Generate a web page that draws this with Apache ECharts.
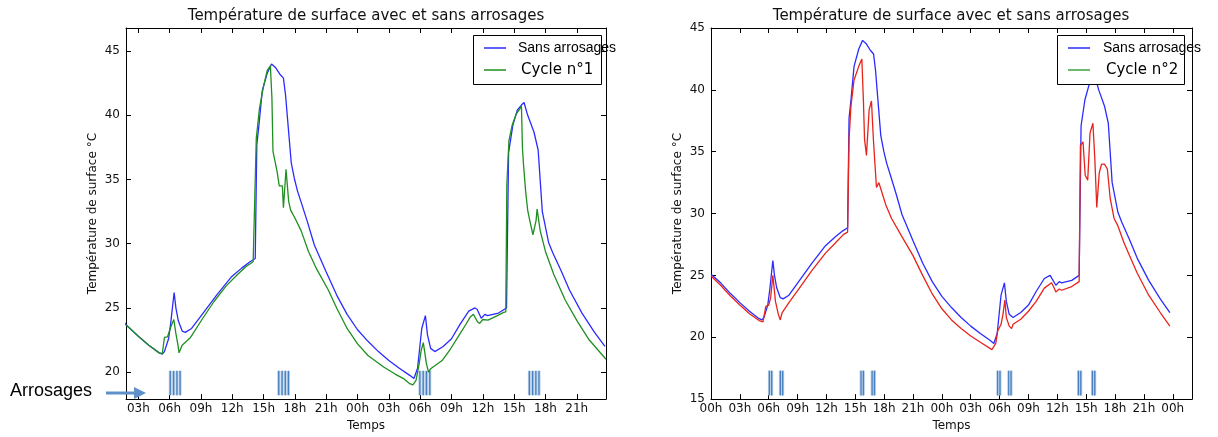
<!DOCTYPE html>
<html>
<head>
<meta charset="utf-8">
<script src="https://cdn.jsdelivr.net/npm/echarts@6/dist/echarts.min.js"></script>
<style>
  html, body { margin: 0; padding: 0; background: #fff; }
  #main { width: 1218px; height: 437px; }
</style>
</head>
<body>
<div id="main"></div>
<script>
// temps en heures depuis 00h du jour 1, temperature en °C
var sansArrosages = [
  [0, 25.1], [1, 24.4], [2, 23.55], [3, 22.8], [4, 22.1], [5, 21.5], [5.3, 21.4], [5.5, 21.6],
  [5.9, 22.6], [6.1, 23.8], [6.43, 26.2], [6.6, 25.0], [6.83, 24.0], [7.2, 23.2], [7.5, 23.1],
  [8.1, 23.4], [9.3, 24.7], [10.5, 26.0], [11.9, 27.4], [12.9, 28.1], [13.7, 28.6], [14.2, 28.85],
  [14.35, 37.7], [14.55, 39.2], [14.87, 41.9], [15.36, 43.3], [15.76, 44.0], [16.16, 43.7],
  [16.56, 43.2], [16.9, 42.9], [17.1, 41.6], [17.65, 36.3], [17.97, 35.0], [18.25, 34.1],
  [18.65, 33.1], [19.2, 31.7], [19.86, 29.9], [21.0, 27.8], [22.0, 26.0], [23.0, 24.5],
  [24.0, 23.3], [25.0, 22.4], [26.0, 21.6], [27.0, 20.9], [28.0, 20.3], [29.0, 19.75],
  [29.4, 19.5], [29.75, 20.3], [30.15, 23.4], [30.5, 24.4], [30.7, 22.9], [31.0, 21.85],
  [31.4, 21.6], [32.2, 22.0], [33.0, 22.6], [33.8, 23.7], [34.65, 24.75], [35.25, 25.0],
  [35.45, 24.9], [35.85, 24.2], [36.2, 24.5], [36.45, 24.4], [37.5, 24.6], [38.27, 25.0],
  [38.47, 37.1], [38.87, 39.2], [39.3, 40.4], [39.7, 40.8], [39.95, 41.0], [40.3, 40.0],
  [40.9, 38.7], [41.3, 37.3], [41.7, 32.5], [42.3, 30.1], [42.7, 29.3], [43.5, 27.9],
  [44.3, 26.4], [45.5, 24.6], [46.7, 23.1], [47.7, 22.0]
];

var cycle1 = [
  [1.8, 23.65], [2, 23.55], [3, 22.8], [4, 22.1], [5, 21.5], [5.3, 21.45], [5.5, 22.7], [5.8, 22.75],
  [6.1, 23.5], [6.4, 24.1], [6.6, 23.0], [6.8, 22.1], [6.9, 21.5], [7.2, 22.1], [8.0, 22.7],
  [9.1, 24.1], [10.25, 25.5], [11.4, 26.7], [12.5, 27.6], [13.3, 28.2], [14.0, 28.6], [14.15, 28.75],
  [14.3, 38.2], [14.6, 40.5], [15.0, 42.3], [15.35, 43.5], [15.65, 43.85], [15.8, 41.3], [15.9, 37.2],
  [16.3, 35.6], [16.5, 34.5], [16.8, 34.5], [16.9, 32.8], [17.15, 35.8], [17.4, 33.3], [17.6, 32.6],
  [18.0, 32.0], [18.6, 31.0], [19.3, 29.4], [20.1, 28.0], [21.2, 26.4], [22.0, 25.0], [23.0, 23.4],
  [24.0, 22.2], [25.0, 21.3], [26.5, 20.4], [27.6, 19.85], [28.4, 19.5], [29.0, 19.1], [29.3, 19.0],
  [29.6, 19.35], [29.9, 20.65], [30.1, 21.7], [30.3, 22.3], [30.4, 22.2], [30.6, 20.65], [30.8, 20.0],
  [31.0, 20.26], [31.4, 20.5], [32.1, 20.9], [32.9, 21.8], [33.6, 22.7], [34.4, 23.75], [34.8, 24.3],
  [35.1, 24.5], [35.5, 23.9], [35.7, 23.8], [36.0, 24.1], [36.5, 24.05], [37.4, 24.4], [38.0, 24.65],
  [38.2, 24.7], [38.3, 34.6], [38.5, 38.0], [38.8, 39.2], [39.2, 40.1], [39.7, 40.7], [39.8, 37.4],
  [39.9, 36.15], [40.1, 34.1], [40.3, 32.6], [40.5, 31.8], [40.8, 30.7], [41.1, 31.8], [41.2, 32.7],
  [41.5, 31.0], [42.0, 29.4], [42.8, 27.6], [43.9, 25.6], [45.1, 23.9], [46.2, 22.5], [47.8, 21.0]
];

var cycle2 = [
  [0, 24.95], [1, 24.2], [2, 23.35], [3, 22.6], [4, 21.9], [5, 21.35], [5.4, 21.25], [5.7, 22.5],
  [6.0, 22.6], [6.2, 23.2], [6.43, 25.0], [6.7, 22.9], [7.0, 21.85], [7.2, 21.4], [7.4, 22.0],
  [8.1, 22.8], [9.3, 24.1], [10.5, 25.4], [11.9, 26.8], [12.9, 27.6], [13.75, 28.3], [14.2, 28.5],
  [14.35, 36.0], [14.55, 38.7], [14.87, 40.8], [15.36, 41.9], [15.68, 42.5], [15.84, 39.2],
  [15.96, 36.0], [16.16, 34.7], [16.44, 38.4], [16.68, 39.1], [16.88, 36.0], [17.05, 33.9],
  [17.2, 32.1], [17.45, 32.5], [17.77, 31.7], [18.17, 30.7], [18.77, 29.6], [19.8, 28.2],
  [21.0, 26.6], [22.0, 25.0], [23.0, 23.5], [24.0, 22.3], [25.0, 21.4], [26.0, 20.7], [27.0, 20.1],
  [28.0, 19.6], [29.2, 19.0], [29.4, 18.95], [29.6, 19.5], [29.8, 20.5], [30.15, 21.05],
  [30.35, 21.85], [30.55, 23.0], [30.7, 21.6], [31.0, 20.9], [31.25, 20.7], [31.4, 21.05],
  [32.2, 21.45], [33.0, 22.1], [33.8, 22.9], [34.65, 23.97], [35.4, 24.4], [35.6, 24.1],
  [35.85, 23.65], [36.2, 23.9], [36.45, 23.8], [37.5, 24.1], [38.27, 24.5], [38.4, 35.5],
  [38.67, 35.8], [38.9, 33.1], [39.16, 32.7], [39.4, 36.5], [39.7, 37.3], [39.9, 34.4],
  [40.1, 30.5], [40.36, 33.3], [40.6, 34.0], [40.9, 34.0], [41.2, 33.6], [41.5, 31.2],
  [41.9, 29.6], [42.3, 29.0], [42.9, 27.7], [43.5, 26.6], [44.3, 25.2], [45.5, 23.4],
  [46.7, 22.0], [47.7, 20.9]
];

// heures des arrosages (traits verticaux en bas de chaque graphe)
var arrosages1 = [6.06, 6.38, 6.7, 7.0, 16.45, 16.77, 17.08, 17.38, 29.97, 30.29, 30.6, 30.92, 40.46, 40.77, 41.08, 41.38];
var arrosages2 = [6.07, 6.31, 7.21, 7.45, 15.6, 15.84, 16.75, 16.99, 29.8, 30.04, 30.95, 31.19, 38.2, 38.44, 39.65, 39.89];
var hauteurArrosages1 = [18.2, 20.1];
var hauteurArrosages2 = [15.3, 17.3];

var heuresTicks1 = [3, 6, 9, 12, 15, 18, 21, 24, 27, 30, 33, 36, 39, 42, 45];
var heuresTicks2 = [0, 3, 6, 9, 12, 15, 18, 21, 24, 27, 30, 33, 36, 39, 42, 45, 48];
var yTicks1 = [20, 25, 30, 35, 40, 45];
var yTicks2 = [15, 20, 25, 30, 35, 40, 45];

var titre = 'Température de surface avec et sans arrosages';
var nomY = 'Température de surface °C';

function fmtHeure(v) {
  var h = Math.round(v) % 24;
  return (h < 10 ? '0' + h : '' + h) + 'h';
}

var font = 'DejaVu Sans';
var axisTxt = { color: '#111', fontFamily: font, fontSize: 12 };

function xAxes(gi, min, max, ticks) {
  return [{
    type: 'value', gridIndex: gi, min: min, max: max, position: 'bottom',
    axisLine: { show: true, onZero: false, lineStyle: { color: '#000', width: 1 } },
    axisTick: { show: true, inside: true, length: 5, customValues: ticks, lineStyle: { color: '#000' } },
    axisLabel: Object.assign({ customValues: ticks, formatter: fmtHeure, margin: 4 }, axisTxt),
    splitLine: { show: false },
    name: 'Temps', nameLocation: 'middle', nameGap: 20,
    nameTextStyle: axisTxt
  }, {
    type: 'value', gridIndex: gi, min: min, max: max, position: 'top',
    axisLine: { show: true, onZero: false, lineStyle: { color: '#000', width: 1 } },
    axisTick: { show: true, inside: true, length: 5, customValues: ticks, lineStyle: { color: '#000' } },
    axisLabel: { show: false }, splitLine: { show: false }
  }];
}

function yAxes(gi, min, max, ticks) {
  return [{
    type: 'value', gridIndex: gi, min: min, max: max, position: 'left',
    axisLine: { show: true, onZero: false, lineStyle: { color: '#000', width: 1 } },
    axisTick: { show: true, inside: true, length: 5, customValues: ticks, lineStyle: { color: '#000' } },
    axisLabel: Object.assign({ customValues: ticks, margin: 6 }, axisTxt),
    splitLine: { show: false },
    name: nomY, nameLocation: 'middle', nameGap: 27, nameRotate: 90,
    nameTextStyle: axisTxt
  }, {
    type: 'value', gridIndex: gi, min: min, max: max, position: 'right',
    axisLine: { show: true, onZero: false, lineStyle: { color: '#000', width: 1 } },
    axisTick: { show: true, inside: true, length: 5, customValues: ticks, lineStyle: { color: '#000' } },
    axisLabel: { show: false }, splitLine: { show: false }
  }];
}

function traitsArrosage(heures, hauteur, xi, yi) {
  return {
    type: 'custom', xAxisIndex: xi, yAxisIndex: yi, silent: true, clip: true,
    data: heures.map(function (h) { return [h, hauteur[0], hauteur[1]]; }),
    encode: { x: 0, y: [1, 2] },
    renderItem: function (params, api) {
      var p0 = api.coord([api.value(0), api.value(1)]);
      var p1 = api.coord([api.value(0), api.value(2)]);
      return {
        type: 'group',
        children: [{
          type: 'line', shape: { x1: p0[0], y1: p0[1], x2: p1[0], y2: p1[1] },
          style: { stroke: '#b7cfe9', lineWidth: 3 }
        }, {
          type: 'line', shape: { x1: p0[0], y1: p0[1], x2: p1[0], y2: p1[1] },
          style: { stroke: '#4a80bf', lineWidth: 1.3 }
        }]
      };
    }
  };
}

function courbe(nom, data, couleur, xi, yi) {
  return {
    name: nom, type: 'line', data: data, xAxisIndex: xi, yAxisIndex: yi,
    symbol: 'none', clip: true, animation: false,
    lineStyle: { color: couleur, width: 1.3 }, itemStyle: { color: couleur }
  };
}

function legende(nom, left, top, txtStyle, couleur, pad) {
  var item = { name: nom };
  if (couleur) item.itemStyle = { color: couleur };
  return {
    data: [item], left: left, top: top, orient: 'vertical', padding: 0,
    icon: 'rect', itemWidth: 22, itemHeight: 1.5, selectedMode: false,
    textStyle: Object.assign({ color: '#000', lineHeight: 16, padding: [0, 0, 0, pad] }, txtStyle)
  };
}

var styleSans = { fontFamily: 'Liberation Sans', fontSize: 14 };
var styleCycle = { fontFamily: font, fontSize: 15 };

var chart = echarts.init(document.getElementById('main'));
chart.setOption({
  animation: false,
  backgroundColor: '#fff',
  title: [
    { text: titre, left: 366, top: 9, textAlign: 'center', padding: 0,
      textStyle: { fontFamily: font, fontSize: 15, fontWeight: 'normal', color: '#111' } },
    { text: titre, left: 951, top: 9, textAlign: 'center', padding: 0,
      textStyle: { fontFamily: font, fontSize: 15, fontWeight: 'normal', color: '#111' } }
  ],
  grid: [
    { left: 126, top: 28, width: 480, height: 374, show: false },
    { left: 711, top: 28, width: 481, height: 374, show: false }
  ],
  xAxis: xAxes(0, 1.82, 47.8, heuresTicks1).concat(xAxes(1, 0, 50, heuresTicks2)),
  yAxis: yAxes(0, 17.9, 46.8, yTicks1).concat(yAxes(1, 15, 45, yTicks2)),
  legend: [
    legende('Sans arrosages', 484, 40, styleSans, null, 7),
    legende('Cycle n°1', 484, 62, styleCycle, null, 10),
    legende('Sans arrosages', 1068, 40, styleSans, null, 8),
    legende('Cycle n°2', 1068, 62, styleCycle, '#3da23d', 11)
  ],
  graphic: [
    { type: 'rect', shape: { x: 473.5, y: 35.5, width: 128, height: 49 },
      style: { fill: '#fff', stroke: '#000', lineWidth: 1 }, z: 4 },
    { type: 'rect', shape: { x: 1057.5, y: 35.5, width: 127, height: 49 },
      style: { fill: '#fff', stroke: '#000', lineWidth: 1 }, z: 4 },
    { type: 'text', left: 10, top: 382, z: 10,
      style: { text: 'Arrosages', fill: '#000', fontFamily: 'Liberation Sans', fontSize: 18 } },
    { type: 'line', shape: { x1: 106, y1: 393, x2: 136, y2: 393 },
      style: { stroke: '#5e90c9', lineWidth: 3 }, z: 10 },
    { type: 'polygon', shape: { points: [[134, 387], [146, 393], [134, 399]] },
      style: { fill: '#5e90c9' }, z: 10 }
  ],
  series: [
    traitsArrosage(arrosages1, hauteurArrosages1, 0, 0),
    courbe('Sans arrosages', sansArrosages, '#2b2bff', 0, 0),
    courbe('Cycle n°1', cycle1, '#1f8f1f', 0, 0),
    traitsArrosage(arrosages2, hauteurArrosages2, 2, 2),
    courbe('Sans arrosages', sansArrosages, '#2b2bff', 2, 2),
    courbe('Cycle n°2', cycle2, '#e8231c', 2, 2)
  ]
});
</script>
</body>
</html>
